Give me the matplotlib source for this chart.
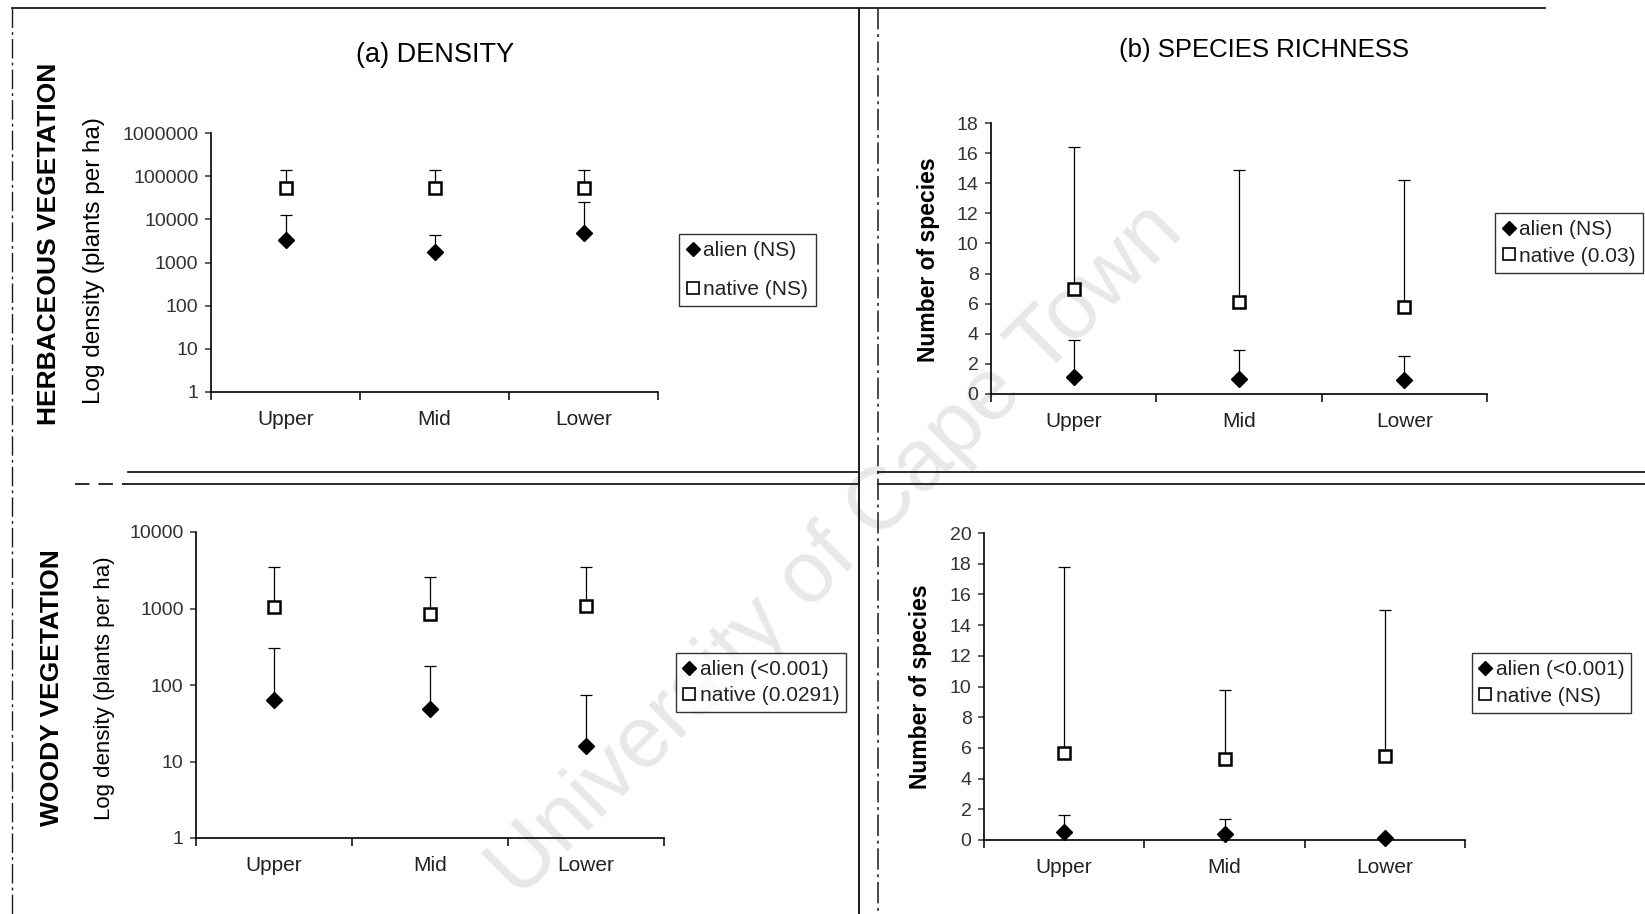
import matplotlib
matplotlib.use('Agg')
import matplotlib.pyplot as plt
from matplotlib.lines import Line2D
import numpy as np

plt.rcParams['font.family'] = ['Liberation Sans', 'DejaVu Sans']

W, H = 1645, 914

sites = ['Upper', 'Mid', 'Lower']
xpos = [0.5, 1.5, 2.5]

# herbaceous density (plants per ha), mean and top of error bar
herb_dens_alien = [3250, 1750, 4900]
herb_dens_alien_top = [12400, 4400, 25000]
herb_dens_native = [52000, 52000, 54000]
herb_dens_native_top = [142000, 140000, 140000]

# herbaceous species richness
herb_rich_alien = [1.1, 1.0, 0.9]
herb_rich_alien_top = [3.6, 2.9, 2.5]
herb_rich_native = [7.0, 6.1, 5.8]
herb_rich_native_top = [16.4, 14.9, 14.2]

# woody density
woody_dens_alien = [64, 49, 16]
woody_dens_alien_top = [305, 175, 75]
woody_dens_native = [1060, 850, 1080]
woody_dens_native_top = [3470, 2600, 3470]

# woody species richness
woody_rich_alien = [0.5, 0.37, 0.1]
woody_rich_alien_top = [1.6, 1.37, 0.1]
woody_rich_native = [5.7, 5.3, 5.5]
woody_rich_native_top = [17.8, 9.8, 15.0]

legend_a = ['alien (NS)', 'native (NS)']
legend_b = ['alien (NS)', 'native (0.03)']
legend_c = ['alien (<0.001)', 'native (0.0291)']
legend_d = ['alien (<0.001)', 'native (NS)']

log_ticks_a = [1, 10, 100, 1000, 10000, 100000, 1000000]
log_ticks_c = [1, 10, 100, 1000, 10000]

fig = plt.figure(figsize=(W / 100, H / 100), dpi=100)
fig.patch.set_facecolor('white')


def px_axes(x0, x1, y_top, y_bot):
    ax = fig.add_axes([x0 / W, 1 - y_bot / H, (x1 - x0) / W, (y_bot - y_top) / H])
    ax.set_facecolor('none')
    return ax


def draw_panel(ax, alien, alien_top, native, native_top):
    for mean, top in [(native, native_top), (alien, alien_top)]:
        mean = np.array(mean, dtype=float)
        up = np.array(top, dtype=float) - mean
        ax.errorbar(xpos, mean, yerr=[np.zeros(3), up], fmt='none', ecolor='black',
                    elinewidth=0.9, capsize=4.5, capthick=0.9, zorder=2)
    ax.plot(xpos, native, ls='none', marker='s', ms=9, mfc='white', mec='black',
            mew=1.8, zorder=3, clip_on=False)
    ax.plot(xpos, alien, ls='none', marker='D', ms=8.5, mfc='black', mec='black',
            zorder=4, clip_on=False)
    ax.set_xlim(0, 3)
    ax.set_xticks([0, 1, 2, 3])
    ax.set_xticklabels([])
    ax.set_xticks(xpos, sites, minor=True)
    ax.tick_params(axis='x', which='major', direction='out', length=6, width=1.1)
    ax.tick_params(axis='x', which='minor', length=0, pad=13, labelsize=15,
                   colors='#222222')
    ax.tick_params(axis='y', which='major', direction='out', length=4, width=1.1,
                   labelsize=14, pad=5, colors='#333333')
    ax.tick_params(axis='y', which='minor', length=0)
    for s in ['top', 'right']:
        ax.spines[s].set_visible(False)
    for s in ['left', 'bottom']:
        ax.spines[s].set_linewidth(1.2)


def add_legend(ax, labels, x0, x1, y_top, y_bot, spacing):
    handles = [Line2D([], [], ls='none', marker='D', ms=7.5, mfc='black', mec='black'),
               Line2D([], [], ls='none', marker='s', ms=9, mfc='white', mec='black', mew=1.2)]
    leg = ax.legend(handles, labels, loc='center',
                    bbox_to_anchor=((x0 + x1) / 2 / W, 1 - (y_top + y_bot) / 2 / H),
                    bbox_transform=fig.transFigure, frameon=True, fancybox=False,
                    edgecolor='black', fontsize=15, handlelength=0.6, handletextpad=0.2,
                    borderpad=0.35, labelspacing=spacing, borderaxespad=0)
    leg.get_frame().set_linewidth(1.0)
    for t in leg.get_texts():
        t.set_color('#222222')


# (a) herbaceous density
ax_a = px_axes(211, 658, 133, 392)
draw_panel(ax_a, herb_dens_alien, herb_dens_alien_top, herb_dens_native, herb_dens_native_top)
ax_a.set_yscale('log')
ax_a.set_ylim(1, 1000000)
ax_a.set_yticks(log_ticks_a, [str(t) for t in log_ticks_a])
add_legend(ax_a, legend_a, 658, 837, 232, 308, 0.95)

# (b) herbaceous richness
ax_b = px_axes(991, 1487, 123, 394)
draw_panel(ax_b, herb_rich_alien, herb_rich_alien_top, herb_rich_native, herb_rich_native_top)
ax_b.set_ylim(0, 18)
ax_b.set_yticks(range(0, 19, 2))
add_legend(ax_b, legend_b, 1493, 1645, 210, 276, 0.35)

# (c) woody density
ax_c = px_axes(196, 664, 532, 838)
draw_panel(ax_c, woody_dens_alien, woody_dens_alien_top, woody_dens_native, woody_dens_native_top)
ax_c.set_yscale('log')
ax_c.set_ylim(1, 10000)
ax_c.set_yticks(log_ticks_c, [str(t) for t in log_ticks_c])
add_legend(ax_c, legend_c, 675, 847, 648, 717, 0.35)

# (d) woody richness
ax_d = px_axes(984, 1465, 533, 840)
draw_panel(ax_d, woody_rich_alien, woody_rich_alien_top, woody_rich_native, woody_rich_native_top)
ax_d.set_ylim(0, 20)
ax_d.set_yticks(range(0, 21, 2))
add_legend(ax_d, legend_d, 1470, 1633, 650, 716, 0.35)

# titles and labels
fig.text(435 / W, 1 - 55 / H, '(a) DENSITY', ha='center', va='center', fontsize=19.5)
fig.text(1264 / W, 1 - 50 / H, '(b) SPECIES RICHNESS', ha='center', va='center', fontsize=18.5)
fig.text(49 / W, 1 - 244 / H, 'HERBACEOUS VEGETATION', rotation=90, ha='center', va='center',
         fontsize=19, fontweight='bold')
fig.text(52 / W, 1 - 688 / H, 'WOODY VEGETATION', rotation=90, ha='center', va='center',
         fontsize=19, fontweight='bold')
fig.text(94 / W, 1 - 261 / H, 'Log density (plants per ha)', rotation=90, ha='center',
         va='center', fontsize=17.5)
fig.text(105 / W, 1 - 688 / H, 'Log density (plants per ha)', rotation=90, ha='center',
         va='center', fontsize=16)
fig.text(929 / W, 1 - 260 / H, 'Number of species', rotation=90, ha='center', va='center',
         fontsize=16.5, fontweight='bold')
fig.text(921 / W, 1 - 687 / H, 'Number of species', rotation=90, ha='center', va='center',
         fontsize=16.5, fontweight='bold')


# panel frames of the scanned page
def fline(xs, ys, **kw):
    fig.add_artist(Line2D([x / W for x in xs], [1 - y / H for y in ys], color='#1a1a1a', **kw))


dashdot = (0, (14, 3, 2, 3))
fline([12, 1545], [8, 8], lw=1.3)
fline([12, 12], [8, 914], lw=1.0, ls=dashdot)
fline([859, 859], [8, 914], lw=1.4)
fline([878, 878], [8, 914], lw=1.1, ls=dashdot)
fline([128, 859], [472, 472], lw=1.3)
fline([75, 125], [484, 484], lw=1.3, ls=(0, (8, 5)))
fline([125, 859], [484, 484], lw=1.3)
fline([878, 1645], [472, 472], lw=1.3)
fline([878, 1645], [484, 484], lw=1.3)

# watermark
fig.text(836 / W, 1 - 551 / H, 'University of Cape Town', rotation=45, ha='center', va='center',
         fontsize=63, color='#e8e8e8', zorder=-1, rotation_mode='anchor')

fig.savefig('out.png', dpi=100, facecolor='white')
